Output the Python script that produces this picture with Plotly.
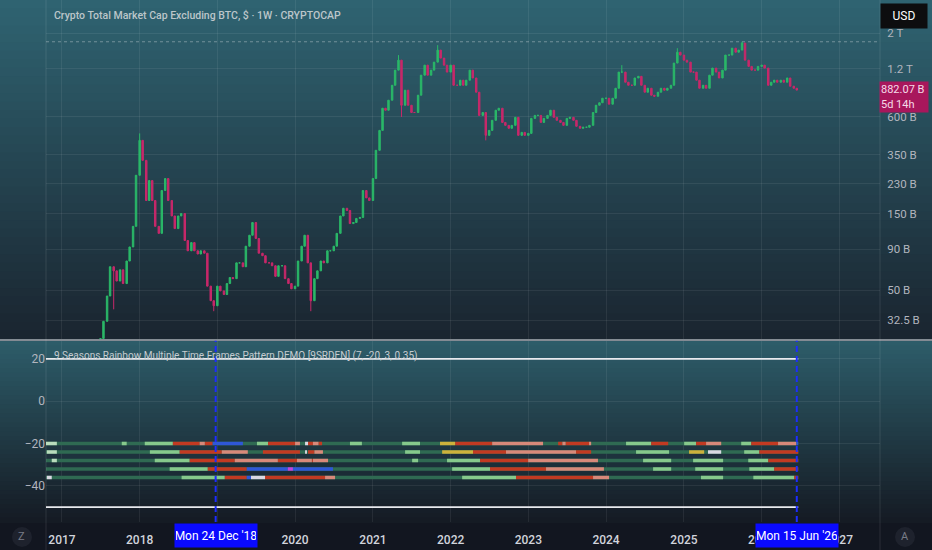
import pandas as pd
import plotly.graph_objects as go
from plotly.subplots import make_subplots

# closes at half-month steps, billions USD
closes_2017 = [25, 32, 46, 70, 66, 57, 67, 55, 76, 93, 125, 260]
closes_2018 = [429, 322, 181, 241, 181, 125, 113, 209, 248, 181, 145, 121,
               145, 150, 102, 88, 99, 88, 84, 88, 85, 53, 43, 40]
closes_2019 = [53, 49.5, 47, 55, 60, 59, 74, 74, 70, 94, 110, 132,
               105, 85, 82, 74, 74, 71, 61, 71, 71, 59, 55, 51]
closes_2020 = [53, 76, 94, 110, 74, 43, 59, 66, 76, 74, 88, 88,
               94, 113, 145, 162, 157, 130, 132, 140, 142, 209, 188, 181]
closes_2021 = [248, 372, 495, 680, 661, 763, 946, 1175, 1356, 710, 881, 710,
               640, 640, 820, 1093, 1262, 1093, 1175, 1318, 1566, 1396, 1262, 1142]
closes_2022 = [1262, 946, 946, 1017, 946, 1017, 1175, 1050, 856, 614, 640, 461,
               495, 572, 661, 680, 555, 532, 510, 532, 597, 461, 481, 461]
closes_2023 = [474, 588, 614, 614, 555, 588, 614, 661, 597, 572, 555, 532,
               588, 597, 572, 525, 510, 518, 518, 532, 640, 710, 736, 785]
closes_2024 = [785, 721, 785, 906, 1142, 1142, 988, 946, 946, 1050, 1075, 946,
               856, 906, 820, 808, 856, 906, 881, 906, 946, 1300, 1520, 1458]
closes_2025 = [1356, 1318, 1142, 1142, 1017, 906, 946, 906, 1093, 1210, 1142, 1050,
               1175, 1458, 1458, 1610, 1520, 1566, 1733, 1356, 1240, 1175, 1175, 1240]
closes_2026 = [1262, 1210, 946, 988, 1017, 988, 1017, 988, 1050, 933, 906, 882.07]
first_open = 22

wick_highs = {"2018-01-01": 474, "2021-05-01": 1458, "2021-11-01": 1682,
              "2024-03-15": 1262, "2024-12-01": 1610, "2025-10-01": 1765}
wick_lows = {"2017-09-01": 38, "2018-12-15": 37, "2020-03-15": 37,
             "2022-06-15": 429, "2021-05-15": 600}

closes = (closes_2017 + closes_2018 + closes_2019 + closes_2020 + closes_2021
          + closes_2022 + closes_2023 + closes_2024 + closes_2025 + closes_2026)
candle_dates = pd.date_range("2017-07-01", periods=len(closes), freq="SMS")
opens = [first_open] + closes[:-1]
keys = [d.strftime("%Y-%m-%d") for d in candle_dates]
highs = [max(o, c, wick_highs.get(k, 0)) for o, c, k in zip(opens, closes, keys)]
lows = [min(o, c, wick_lows.get(k, 1e9)) for o, c, k in zip(opens, closes, keys)]

price_ticks = [2000, 1200, 600, 350, 230, 150, 90, 50, 32.5]
price_labels = ["2 T", "1.2 T", "600 B", "350 B", "230 B", "150 B", "90 B", "50 B", "32.5 B"]
high_line = 1765
last_price = "882.07 B"
countdown = "5d 14h"

# indicator panel
osc_ticks = [20, 0, -20, -40]
osc_labels = ["20", "0", "\u221220", "\u221240"]
band_levels = [20, -50]
row_levels = [-20, -24, -28, -32, -36]
rainbow_start = "2016-10-18"
rainbow_end = "2026-06-22"
marked_dates = ["2018-12-24", "2026-06-15"]
marked_labels = ["Mon 24 Dec '18", "Mon 15 Jun '26"]

row1 = [("2016-10-18", "2016-12-08", "pl"), ("2017-10-09", "2017-11-01", "lg"),
        ("2018-01-25", "2018-06-06", "lg"), ("2018-06-06", "2018-10-10", "rd"),
        ("2018-10-10", "2018-11-03", "sa"), ("2018-11-03", "2018-12-10", "rd"),
        ("2018-12-10", "2019-05-01", "bl"), ("2019-07-06", "2019-08-27", "lg"),
        ("2019-08-27", "2020-01-01", "rd"), ("2020-01-01", "2020-01-24", "sa"),
        ("2020-02-17", "2020-03-02", "wh"), ("2020-03-02", "2020-03-25", "rd"),
        ("2020-03-25", "2020-04-20", "sa"), ("2020-04-20", "2020-05-07", "rd"),
        ("2020-09-15", "2020-11-10", "lg"), ("2021-05-18", "2021-08-10", "lg"),
        ("2021-11-12", "2022-01-22", "ye"), ("2022-01-22", "2022-07-15", "rd"),
        ("2022-07-15", "2023-03-11", "sa"), ("2023-05-21", "2023-06-10", "rd"),
        ("2023-06-10", "2023-06-25", "sa"), ("2023-06-25", "2023-10-13", "rd"),
        ("2023-10-13", "2023-10-23", "sa"), ("2024-04-04", "2024-07-31", "lg"),
        ("2024-07-31", "2024-10-19", "rd"), ("2025-01-02", "2025-02-27", "lg"),
        ("2025-02-27", "2025-04-15", "rd"), ("2025-04-15", "2025-06-25", "sa"),
        ("2025-09-27", "2025-11-13", "lg"), ("2025-11-13", "2026-03-19", "rd"),
        ("2026-03-19", "2026-06-13", "sa"), ("2026-06-13", "2026-06-22", "bl")]
row2 = [("2016-10-22", "2016-12-08", "pl"), ("2018-02-18", "2018-07-08", "lg"),
        ("2018-07-08", "2019-01-22", "rd"), ("2019-01-22", "2019-05-24", "sa"),
        ("2019-08-03", "2020-01-24", "rd"), ("2020-02-17", "2020-02-26", "wh"),
        ("2020-03-02", "2020-04-01", "rd"), ("2020-04-01", "2020-05-11", "sa"),
        ("2021-06-01", "2021-08-10", "lg"), ("2021-11-22", "2022-04-16", "ye"),
        ("2022-04-16", "2022-09-18", "rd"), ("2022-09-18", "2023-08-13", "sa"),
        ("2023-08-13", "2023-10-23", "rd"), ("2024-05-21", "2024-10-23", "lg"),
        ("2025-01-25", "2025-04-06", "ye"), ("2025-04-24", "2025-06-25", "wh"),
        ("2025-10-11", "2025-12-21", "lg"), ("2025-12-21", "2026-06-22", "rd")]
row3 = [("2016-11-14", "2016-12-08", "pl"), ("2018-03-13", "2018-08-24", "lg"),
        ("2018-08-24", "2019-03-24", "rd"), ("2019-03-24", "2019-10-12", "sa"),
        ("2019-10-12", "2020-01-10", "rd"), ("2020-01-10", "2020-03-20", "sa"),
        ("2020-03-20", "2020-03-25", "rd"), ("2020-03-25", "2020-06-04", "sa"),
        ("2021-07-04", "2021-08-01", "lg"), ("2021-12-15", "2022-05-19", "lg"),
        ("2022-05-19", "2022-12-31", "rd"), ("2022-12-31", "2023-11-24", "sa"),
        ("2024-06-23", "2024-11-02", "lg"), ("2025-02-13", "2025-07-04", "lg"),
        ("2025-10-30", "2026-02-01", "lg"), ("2026-02-01", "2026-06-22", "rd")]
row4 = [("2018-05-22", "2018-11-17", "lg"), ("2018-11-17", "2019-05-19", "rd"),
        ("2019-05-19", "2019-11-28", "bl"), ("2019-11-28", "2019-12-22", "pu"),
        ("2019-12-22", "2020-06-27", "bl"), ("2022-01-08", "2022-07-05", "lg"),
        ("2022-07-05", "2023-03-25", "rd"), ("2023-03-25", "2023-12-22", "sa"),
        ("2024-08-09", "2024-11-02", "lg"), ("2025-02-23", "2025-07-04", "lg"),
        ("2025-11-04", "2026-03-01", "lg"), ("2026-03-01", "2026-06-22", "rd")]
row5 = [("2016-10-22", "2016-11-14", "wh"), ("2018-07-17", "2019-02-05", "lg"),
        ("2019-02-05", "2019-05-19", "rd"), ("2019-05-19", "2019-06-08", "bl"),
        ("2019-06-08", "2019-08-13", "wh"), ("2019-08-13", "2020-05-21", "rd"),
        ("2020-05-21", "2020-07-07", "sa"), ("2022-02-24", "2022-11-04", "lg"),
        ("2022-11-04", "2023-11-01", "rd"), ("2023-11-01", "2024-01-15", "sa"),
        ("2025-03-22", "2025-07-04", "lg"), ("2025-11-23", "2026-06-03", "lg"),
        ("2026-06-03", "2026-06-22", "rd")]
rows = [row1, row2, row3, row4, row5]

seg_colors = {"pl": "#b9dcbc", "lg": "#86c98c", "rd": "#c23a22", "sa": "#d8897a",
              "bl": "#2f57d8", "ye": "#cdb23c", "wh": "#d9d9e3", "pu": "#c043df"}
base_color = "#2f6a52"

fig = make_subplots(rows=2, cols=1, shared_xaxes=True)

fig.add_trace(go.Candlestick(
    x=candle_dates, open=opens, high=highs, low=lows, close=closes,
    increasing=dict(line=dict(color="#2ab868", width=1), fillcolor="#2ab868"),
    decreasing=dict(line=dict(color="#c8286a", width=1), fillcolor="#c8286a"),
    whiskerwidth=0, showlegend=False), row=1, col=1)

fig.add_trace(go.Scatter(x=[rainbow_start, "2027-07-11"], y=[high_line, high_line], mode="lines",
                         line=dict(color="rgba(200,210,215,0.45)", width=1, dash="dot"),
                         showlegend=False), row=1, col=1)

for lvl in band_levels:
    fig.add_trace(go.Scatter(x=[rainbow_start, rainbow_end], y=[lvl, lvl], mode="lines",
                             line=dict(color="#e8eaee", width=1.6), showlegend=False), row=2, col=1)

for lvl, segs in zip(row_levels, rows):
    fig.add_trace(go.Scatter(x=[rainbow_start, rainbow_end], y=[lvl, lvl], mode="lines",
                             line=dict(color=base_color, width=3.5), showlegend=False), row=2, col=1)
    for key, col in seg_colors.items():
        xs, ys = [], []
        for s, e, k in segs:
            if k == key:
                xs += [s, e, None]
                ys += [lvl, lvl, None]
        if xs:
            fig.add_trace(go.Scatter(x=xs, y=ys, mode="lines", line=dict(color=col, width=3.5),
                                     showlegend=False, connectgaps=False), row=2, col=1)

# background gradients
def blend(c1, c2, t):
    a = [int(c1[i:i + 2], 16) for i in (1, 3, 5)]
    b = [int(c2[i:i + 2], 16) for i in (1, 3, 5)]
    return "rgb(%d,%d,%d)" % tuple(round(a[i] + (b[i] - a[i]) * t) for i in range(3))

shapes = []
top_dom = [0.3506, 1.0]
bot_dom = [0.0, 0.347]
n = 40
for dom, c_top, c_bot in [(top_dom, "#2f6371", "#1a2530"), (bot_dom, "#2d5c69", "#151b24")]:
    for i in range(n):
        y1 = dom[1] - (dom[1] - dom[0]) * i / n
        y0 = dom[1] - (dom[1] - dom[0]) * (i + 1) / n
        shapes.append(dict(type="rect", xref="paper", yref="paper", x0=-0.06, x1=1.07,
                           y0=y0 - 0.002, y1=y1, fillcolor=blend(c_top, c_bot, i / (n - 1)),
                           line=dict(width=0), layer="below"))
shapes.append(dict(type="rect", xref="paper", yref="paper", x0=-0.06, x1=1.07, y0=0.347, y1=0.3506,
                   fillcolor="#1a2530", line=dict(width=0), layer="below"))
shapes.append(dict(type="line", xref="paper", yref="paper", x0=-0.06, x1=1.07, y0=0.3488, y1=0.3488,
                   line=dict(color="rgba(215,220,225,0.75)", width=1.5)))
for xp in [0, 1]:
    shapes.append(dict(type="line", xref="paper", yref="paper", x0=xp, x1=xp, y0=-0.054, y1=1,
                       line=dict(color="rgba(255,255,255,0.10)", width=1)))
for d in marked_dates:
    shapes.append(dict(type="line", xref="x2", yref="y2 domain", x0=d, x1=d, y0=0, y1=1,
                       line=dict(color="#1d2cff", width=2, dash="6px,4px")))
for xp in [-0.0288, 1.0300]:
    shapes.append(dict(type="circle", xref="paper", yref="paper", xsizemode="pixel", ysizemode="pixel",
                       xanchor=xp, yanchor=-0.0287, x0=-10, x1=10, y0=-10, y1=10,
                       fillcolor="#1e222d", line=dict(width=0)))

annotations = [
    dict(text="Crypto Total Market Cap Excluding BTC, $ \u00b7 1W \u00b7 CRYPTOCAP", xref="paper", yref="paper",
         x=0.0072, y=0.971, xanchor="left", yanchor="middle", showarrow=False,
         font=dict(family="Roboto", size=10.5, weight=500, color="#bcc6ca")),
    dict(text="9 Seasons Rainbow Multiple Time Frames Pattern DEMO [9SRDEN] (7, -20, 3, 0.35)",
         xref="paper", yref="paper", x=0.0072, y=0.318, xanchor="left", yanchor="middle", showarrow=False,
         font=dict(family="Roboto", size=10, color="#c6ccd0")),
    dict(text="USD", xref="paper", yref="paper", x=1.0288, y=0.969, xanchor="center", yanchor="middle",
         showarrow=False, bgcolor="#0d0d0f", width=44, height=22,
         font=dict(family="Roboto", size=12, color="#ffffff")),
    dict(text=last_price + "<br>" + countdown, xref="paper", yref="paper", x=1.0288, y=0.814,
         xanchor="center", yanchor="middle", showarrow=False, align="left", bgcolor="#a8175c",
         width=46, height=28, font=dict(family="Roboto", size=11, color="#f5dbe8")),
    dict(text="Z", xref="paper", yref="paper", x=-0.0288, y=-0.0287, xanchor="center", yanchor="middle",
         showarrow=False, font=dict(family="Roboto", size=11, color="#787b86")),
    dict(text="A", xref="paper", yref="paper", x=1.0300, y=-0.0287, xanchor="center", yanchor="middle",
         showarrow=False, font=dict(family="Roboto", size=11, color="#787b86")),
]
for d, lab in zip(marked_dates, marked_labels):
    annotations.append(dict(text=lab, xref="x2", yref="paper", x=d, y=-0.0265, xanchor="center",
                            yanchor="middle", showarrow=False, bgcolor="#0a0aff", width=80, height=21,
                            font=dict(family="Roboto", size=12, color="#ffffff")))

grid = "rgba(255,255,255,0.07)"
fig.update_xaxes(type="date", range=["2016-10-18", "2027-07-11"], dtick="M12", tick0="2017-01-01",
                 tickformat="%Y", showgrid=True, gridcolor=grid, zeroline=False,
                 rangeslider_visible=False, ticks="", showline=False)
fig.update_xaxes(showticklabels=False, row=1, col=1)
fig.update_xaxes(tickfont=dict(family="Roboto", size=12, weight=500, color="#d1d4dc"),
                 ticks="outside", ticklen=7, tickcolor="rgba(0,0,0,0)", row=2, col=1)

fig.update_layout(
    width=932, height=550,
    margin=dict(l=46, r=52, t=0, b=28),
    paper_bgcolor="#121620", plot_bgcolor="rgba(0,0,0,0)",
    showlegend=False, shapes=shapes, annotations=annotations,
    yaxis=dict(domain=top_dom, type="log", range=[1.395, 3.507], side="right",
               tickvals=price_ticks, ticktext=price_labels, showgrid=True, gridcolor=grid,
               tickfont=dict(family="Roboto", size=11.5, color="#b2b5be"), zeroline=False,
               ticks="outside", ticklen=4, tickcolor="rgba(0,0,0,0)"),
    yaxis2=dict(domain=bot_dom, range=[-57, 28.5], side="left", tickvals=osc_ticks, ticktext=osc_labels,
                showgrid=True, gridcolor=grid, zeroline=False, ticks="",
                tickfont=dict(family="Roboto", size=12, color="#b2b5be")),
)

fig.write_html("out.html", config={"displayModeBar": False},
               post_script="document.body.style.margin='0';")
